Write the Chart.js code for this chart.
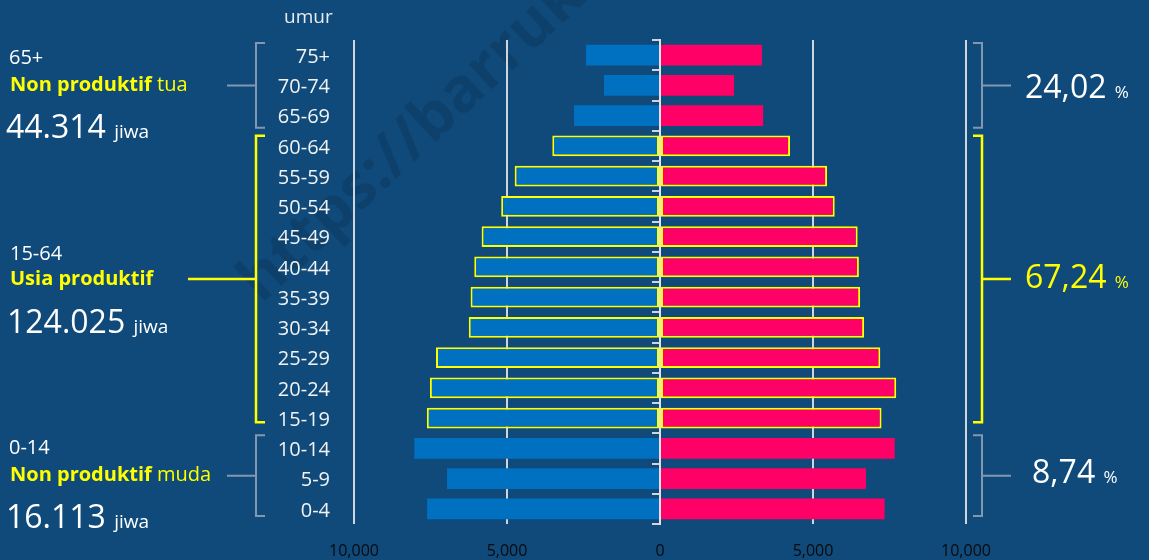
<!DOCTYPE html>
<html>
<head>
<meta charset="utf-8">
<script src="https://cdn.jsdelivr.net/npm/chart.js@4.4.1/dist/chart.umd.min.js"></script>
<style>
  html, body { margin: 0; padding: 0; }
  body {
    width: 1149px; height: 560px; overflow: hidden; position: relative;
    background: #0f4a7a; font-family: "Open Sans", "Noto Sans", sans-serif;
  }
  #wrap { position: absolute; left: 0; top: 0; width: 1149px; height: 560px; z-index: 1; }
  .t { position: absolute; white-space: nowrap; line-height: 1; z-index: 2; }
  .w { color: #ffffff; }
  .y { color: #ffff00; }
  .s20 { font-size: 20px; }
  .big { font-size: 32px; }
  .small { font-size: 19px; }
  .pct { font-size: 17px; }
  .watermark {
    position: absolute; left: 224px; top: 264px; z-index: 0;
    font-size: 62px; font-weight: 700; color: rgba(0, 0, 0, 0.11);
    transform: rotate(-43deg); transform-origin: 0 0; white-space: nowrap; line-height: 1;
  }
</style>
</head>
<body>
<div class="watermark">https://barrukab.go.id</div>

<div class="t w" style="left:284px;top:7px;font-size:19px;color:#e6ecf2">umur</div>

<!-- kiri -->
<div class="t w s20" style="left:9px;top:47px">65+</div>
<div class="t y s20" style="left:10px;top:74px"><b>Non produktif</b> tua</div>
<div class="t w big" style="left:6px;top:110px">44.314 <span class="small">jiwa</span></div>

<div class="t w s20" style="left:10px;top:243px">15-64</div>
<div class="t y s20" style="left:10px;top:268px"><b>Usia produktif</b></div>
<div class="t w big" style="left:7px;top:305px">124.025 <span class="small">jiwa</span></div>

<div class="t w s20" style="left:9px;top:437px">0-14</div>
<div class="t y s20" style="left:10px;top:464px"><b>Non produktif</b> muda</div>
<div class="t w big" style="left:6px;top:500px">16.113 <span class="small">jiwa</span></div>

<!-- kanan -->
<div class="t w big" style="left:1025px;top:70px">24,02 <span class="pct">%</span></div>
<div class="t y big" style="left:1025px;top:260px">67,24 <span class="pct">%</span></div>
<div class="t w big" style="left:1032px;top:455px">8,74 <span class="pct">%</span></div>

<div id="wrap"><canvas id="chart-pyramid" width="1149" height="560"></canvas></div>

<script>
"use strict";

// kelompok umur (atas ke bawah)
const ageGroups = ["75+", "70-74", "65-69", "60-64", "55-59", "50-54", "45-49", "40-44",
  "35-39", "30-34", "25-29", "20-24", "15-19", "10-14", "5-9", "0-4"];

// laki-laki (kiri) dan perempuan (kanan), jiwa
const maleCounts   = [2420, 1830, 2810, 3520, 4750, 5190, 5830, 6070, 6190, 6250, 7320, 7520, 7620, 8030, 6960, 7610];
const femaleCounts = [3330, 2420, 3370, 4250, 5460, 5710, 6460, 6500, 6540, 6670, 7200, 7720, 7240, 7670, 6730, 7340];

// usia produktif 15-64 diberi garis kuning
const productive = ageGroups.map(g => {
  const lo = parseInt(g, 10);
  return lo >= 15 && lo <= 60;
});

const xTicks = [-10000, -5000, 0, 5000, 10000];

const YELLOW = "#ffff00";
const GREY = "#8497b0";

/* ==========================================================
   Kurung kelompok (kiri & kanan)
   ========================================================== */
const groupBrackets = [
  { from: 0,  to: 2,  color: GREY,   padTop: 3, padBot: 3,  leftEnd: 227, width: 2 },
  { from: 3,  to: 12, color: YELLOW, padTop: 5, padBot: 11, leftEnd: 188, width: 2.5 },
  { from: 13, to: 15, color: GREY,   padTop: 2, padBot: 8,  leftEnd: 227, width: 2 },
];

const bracketPlugin = {
  id: "brackets",
  afterDraw(chart) {
    const { ctx } = chart;
    const y = chart.scales.y;
    ctx.save();
    groupBrackets.forEach(b => {
      const top = y.getPixelForValue(b.from - 0.5) + b.padTop;
      const bot = y.getPixelForValue(b.to + 0.5) - b.padBot;
      const mid = (top + bot) / 2;
      ctx.strokeStyle = b.color;
      ctx.lineWidth = b.width;
      ctx.lineJoin = "miter";

      // kiri
      ctx.beginPath();
      ctx.moveTo(265, top); ctx.lineTo(256, top); ctx.lineTo(256, bot); ctx.lineTo(265, bot);
      ctx.moveTo(256, mid); ctx.lineTo(b.leftEnd, mid);
      ctx.stroke();

      // kanan
      ctx.beginPath();
      ctx.moveTo(973, top); ctx.lineTo(982, top); ctx.lineTo(982, bot); ctx.lineTo(973, bot);
      ctx.moveTo(982, mid); ctx.lineTo(1011, mid);
      ctx.stroke();
    });
    ctx.restore();
  }
};

const el = document.getElementById("chart-pyramid");
new Chart(el, {
  type: "bar",
  data: {
    labels: ageGroups,
    datasets: [
      {
        label: "Laki-laki",
        data: maleCounts.map(v => -v),
        backgroundColor: "#0070c0",
        borderColor: productive.map(p => p ? YELLOW : "rgba(0,0,0,0)"),
        borderWidth: productive.map(p => p ? 2 : 0),
        borderSkipped: false,
        xAxisID: "x", yAxisID: "y",
      },
      {
        label: "Perempuan",
        data: femaleCounts,
        backgroundColor: "#ff0066",
        borderColor: productive.map(p => p ? YELLOW : "rgba(0,0,0,0)"),
        borderWidth: productive.map(p => p ? 2 : 0),
        borderSkipped: false,
        xAxisID: "x", yAxisID: "y",
      },
    ],
  },
  options: {
    indexAxis: "y",
    responsive: false,
    animation: false,
    events: [],
    barPercentage: 0.69,
    categoryPercentage: 1,
    layout: { padding: { left: 254, right: 183, top: 40, bottom: 0 } },
    plugins: {
      legend: { display: false },
      tooltip: { enabled: false },
    },
    scales: {
      x: {
        type: "linear",
        stacked: true,
        min: -10000, max: 10000,
        afterBuildTicks: (s) => { s.ticks = xTicks.map(v => ({ value: v })); },
        afterFit: (s) => { s.height = 35; },
        grid: { color: "#cfd5dc", lineWidth: 2, drawTicks: false },
        border: { display: false },
        ticks: {
          padding: 18,
          color: "#0a0a0a",
          font: { family: "'Open Sans', sans-serif", size: 16 },
          callback: (v) => Math.abs(v).toLocaleString("en-US"),
        },
      },
      y: {
        type: "category",
        stacked: true,
        afterFit: (s) => { s.width = 100; },
        grid: { display: false, drawTicks: false },
        border: { display: false },
        ticks: {
          padding: 24,
          labelOffset: 2,
          color: "#f2f2f2",
          font: { family: "'Open Sans', sans-serif", size: 20 },
        },
      },
      y2: {
        type: "category",
        axis: "y",
        position: { x: 0 },
        offset: true,
        z: 1,
        grid: { offset: true, drawOnChartArea: false, drawTicks: true, tickLength: 7, color: "#cfd5dc", lineWidth: 2 },
        border: { display: true, color: "#dfe3e8", width: 2 },
        ticks: { display: false },
      },
    },
  },
  plugins: [bracketPlugin],
});
</script>
</body>
</html>
